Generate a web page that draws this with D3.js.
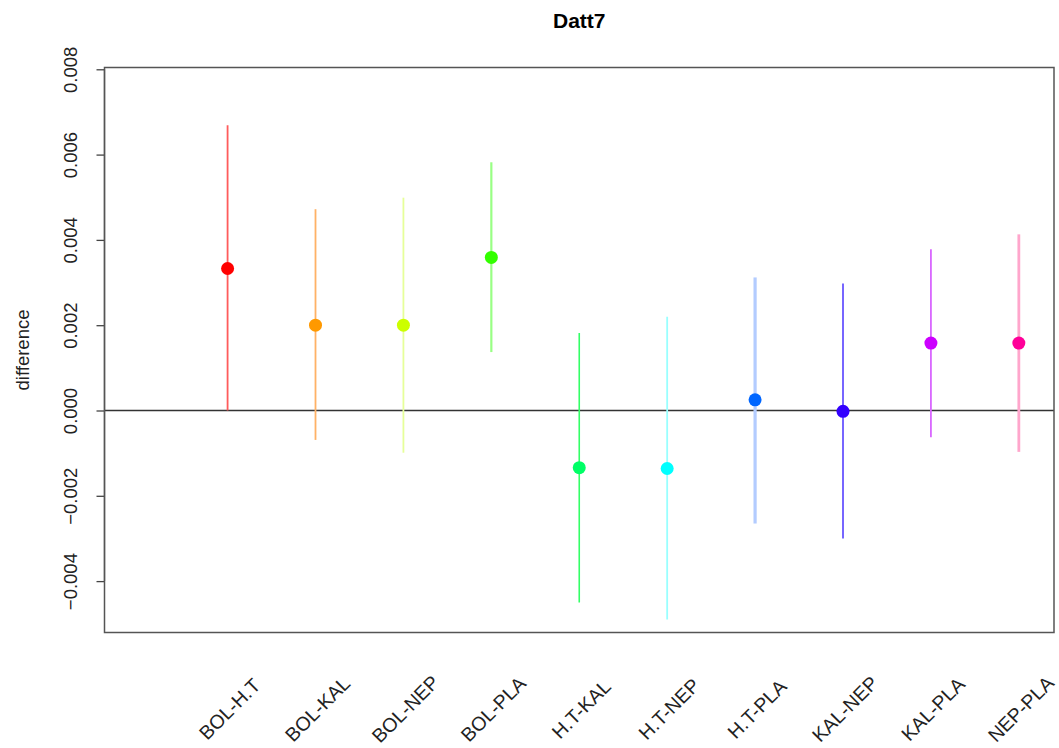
<!DOCTYPE html>
<html>
<head>
<meta charset="utf-8">
<script src="https://cdn.jsdelivr.net/npm/d3@7/dist/d3.min.js"></script>
<style>
  html, body { margin: 0; padding: 0; background: #fff; }
  svg { display: block; font-family: "Liberation Sans", Arial, Helvetica, sans-serif; }
</style>
</head>
<body>
<svg id="chart" width="1059" height="748"></svg>
<script>
// Pairwise differences for Datt7 with their interval bounds
const comparisons = ["BOL-H.T", "BOL-KAL", "BOL-NEP", "BOL-PLA", "H.T-KAL",
                     "H.T-NEP", "H.T-PLA", "KAL-NEP", "KAL-PLA", "NEP-PLA"];
const diffs = [0.00333, 0.00200, 0.00200, 0.00359, -0.00134,
               -0.00136, 0.00025, -0.00002, 0.00158, 0.00158];
const lower = [0.00000, -0.00069, -0.00099, 0.00137, -0.00450,
               -0.00490, -0.00265, -0.00300, -0.00063, -0.00097];
const upper = [0.00669, 0.00472, 0.00499, 0.00582, 0.00182,
               0.00220, 0.00312, 0.00298, 0.00378, 0.00413];
const yTicks = [-0.004, -0.002, 0.000, 0.002, 0.004, 0.006, 0.008];

// point colours (rainbow palette) and the lighter interval line colours
const pointColors = ["#FF0000", "#FF9900", "#CCFF00", "#33FF00", "#00FF66",
                     "#00FFFF", "#0066FF", "#3300FF", "#CC00FF", "#FF0099"];
const lineColors = ["#ff5c5c", "#ffb266", "#e6ff99", "#99ff85", "#33ff66",
                    "#99ffff", "#b3ccff", "#7766ff", "#d966ff", "#ffa6cc"];
const lineWidths = [1.8, 1.8, 1.8, 2.2, 1.6, 1.8, 3.2, 2, 1.8, 2.8];

const svg = d3.select("#chart");
const plotLeft = 104.5, plotRight = 1054, plotTop = 67.5, plotBottom = 632.5;

const x = d3.scaleLinear().domain([-0.4, 10.4]).range([plotLeft, plotRight]);
const y = d3.scaleLinear().domain([-0.005205, 0.008042]).range([plotBottom, plotTop]);

// title
svg.append("text")
  .attr("x", (plotLeft + plotRight) / 2).attr("y", 28)
  .attr("text-anchor", "middle")
  .style("font-size", "21px").style("font-weight", "bold")
  .text("Datt7");

// zero reference line
svg.append("line")
  .attr("x1", plotLeft).attr("x2", plotRight)
  .attr("y1", y(0)).attr("y2", y(0))
  .attr("stroke", "#333").attr("stroke-width", 1.3);

// interval segments
svg.append("g").selectAll("line")
  .data(comparisons)
  .join("line")
  .attr("x1", (d, i) => x(i + 1)).attr("x2", (d, i) => x(i + 1))
  .attr("y1", (d, i) => y(lower[i])).attr("y2", (d, i) => y(upper[i]))
  .attr("stroke", (d, i) => lineColors[i])
  .attr("stroke-width", (d, i) => lineWidths[i]);

// point estimates
svg.append("g").selectAll("circle")
  .data(comparisons)
  .join("circle")
  .attr("cx", (d, i) => x(i + 1))
  .attr("cy", (d, i) => y(diffs[i]))
  .attr("r", 6.5)
  .attr("fill", (d, i) => pointColors[i]);

// y axis
const yAxis = svg.append("g")
  .attr("transform", `translate(${plotLeft},0)`)
  .call(d3.axisLeft(y).tickValues(yTicks).tickSize(8).tickSizeOuter(0)
    .tickFormat(d3.format(".3f")));
yAxis.select(".domain")
  .attr("d", `M0,${y(yTicks[0])}V${y(yTicks[yTicks.length - 1])}`)
  .attr("stroke", "#444").attr("stroke-width", 1.3);
yAxis.selectAll(".tick line").attr("stroke", "#444").attr("stroke-width", 1.3);
yAxis.selectAll(".tick text")
  .attr("x", null).attr("dy", null)
  .attr("text-anchor", "middle")
  .attr("transform", "translate(-34,0) rotate(-90)")
  .attr("dy", "0.35em")
  .style("font-size", "18.5px")
  .attr("fill", "#222");

// x category labels, rotated
svg.append("g").selectAll("text")
  .data(comparisons)
  .join("text")
  .attr("transform", (d, i) => `translate(${x(i + 1) + 2},709) rotate(-45)`)
  .attr("text-anchor", "middle")
  .attr("dy", "0.35em")
  .style("font-size", "19.5px")
  .attr("fill", "#222")
  .text(d => d);

// y axis title
svg.append("text")
  .attr("transform", `translate(23,${(plotTop + plotBottom) / 2}) rotate(-90)`)
  .attr("text-anchor", "middle")
  .attr("dy", "0.35em")
  .style("font-size", "18.5px")
  .attr("fill", "#222")
  .text("difference");

// plot frame
svg.append("rect")
  .attr("x", plotLeft).attr("y", plotTop)
  .attr("width", plotRight - plotLeft).attr("height", plotBottom - plotTop)
  .attr("fill", "none").attr("stroke", "#555").attr("stroke-width", 1.5);
</script>
</body>
</html>
